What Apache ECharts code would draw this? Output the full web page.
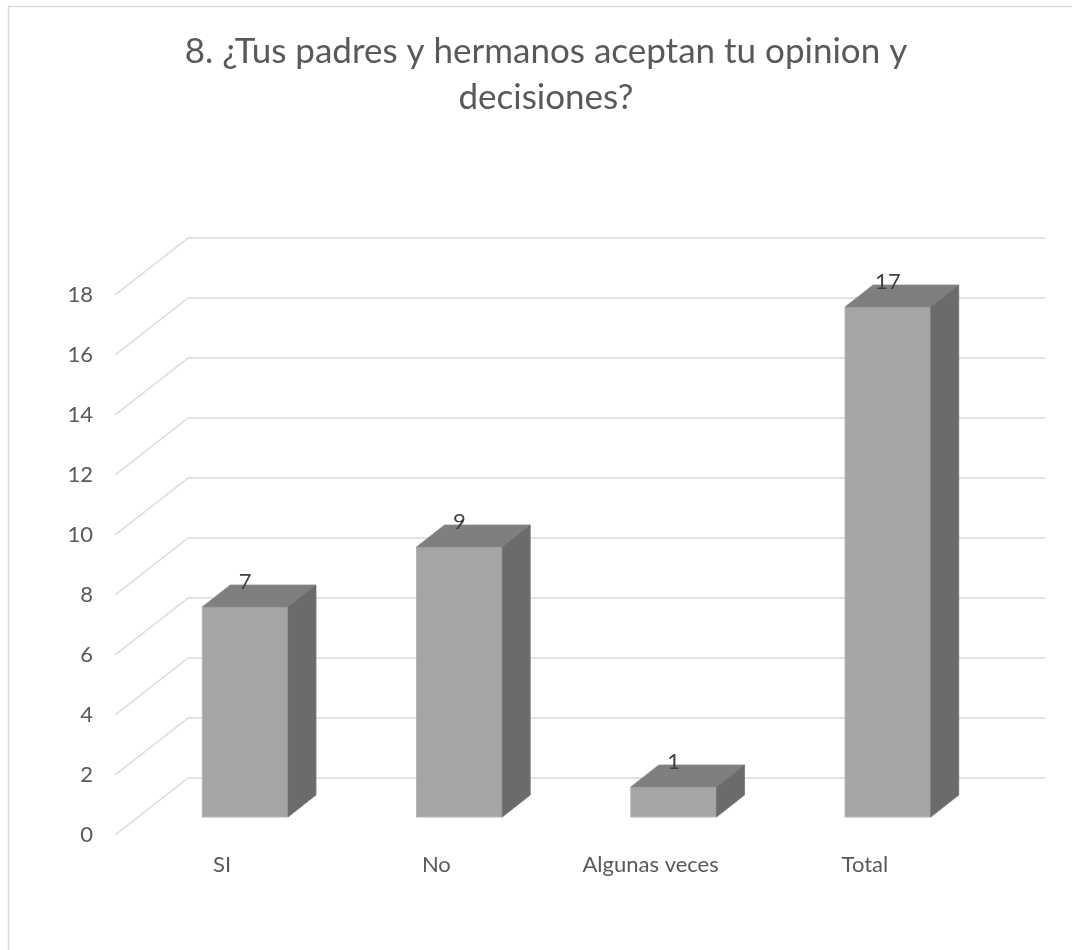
<!DOCTYPE html>
<html>
<head>
<meta charset="utf-8">
<script src="https://cdn.jsdelivr.net/npm/echarts@6/dist/echarts.min.js"></script>
<style>html,body{margin:0;padding:0;background:#fff}#c{width:1072px;height:950px}</style>
</head>
<body>
<div id="c"></div>
<script>
var titleLines = ['8. ¿Tus padres y hermanos aceptan tu opinion y', 'decisiones?'];
var categories = ['SI', 'No', 'Algunas veces', 'Total'];
var values = [7, 9, 1, 17];
var yTicks = [0, 2, 4, 6, 8, 10, 12, 14, 16, 18];

// depth geometry (pixels)
var WALL_DX = 73, WALL_DY = 57;      // floor depth
var BAR_OFF_X = 23, BAR_OFF_Y = 18;  // bar front position inside depth
var BAR_DX = 28, BAR_DY = 22;        // bar depth
var BAR_FRAC = 0.4;

var chart = echarts.init(document.getElementById('c'), null, {renderer: 'canvas'});
var FONT = 'Lato';

chart.setOption({
  animation: false,
  backgroundColor: '#ffffff',
  graphic: [{
    type: 'rect', silent: true, z: -10,
    shape: {x: 8.5, y: 6.5, width: 1200, height: 1200},
    style: {fill: 'none', stroke: '#d9d9d9', lineWidth: 1.5}
  }],
  title: {
    text: titleLines.join('\n'),
    left: 541, top: 24, textAlign: 'center',
    textStyle: {fontFamily: FONT, fontSize: 35, fontWeight: 'normal', color: '#595959', lineHeight: 46}
  },
  grid: {left: 115, right: 100, top: 295, bottom: 115},
  xAxis: {
    type: 'category', data: categories,
    axisLine: {show: false}, axisTick: {show: false}, splitLine: {show: false},
    axisLabel: {margin: 19, fontFamily: FONT, fontSize: 22, color: '#595959'}
  },
  yAxis: {
    type: 'value', min: 0, max: 18, interval: 2,
    axisLine: {show: false}, axisTick: {show: false}, splitLine: {show: false},
    axisLabel: {margin: 22, fontFamily: FONT, fontSize: 22, color: '#595959'}
  },
  series: [{
    type: 'custom', clip: false, silent: true, z: 1,
    data: yTicks.map(function (v) { return [0, v]; }),
    encode: {x: 0, y: 1},
    renderItem: function (params, api) {
      var cs = params.coordSys;
      var p = api.coord([0, api.value(1)]);
      var y = p[1];
      var st = {stroke: '#d9d9d9', lineWidth: 1.5};
      return {
        type: 'group',
        children: [
          {type: 'line', shape: {x1: cs.x, y1: y, x2: cs.x + WALL_DX, y2: y - WALL_DY}, style: st},
          {type: 'line', shape: {x1: cs.x + WALL_DX, y1: y - WALL_DY, x2: cs.x + cs.width + WALL_DX, y2: y - WALL_DY}, style: st}
        ]
      };
    }
  }, {
    type: 'custom', clip: false, silent: true, z: 2,
    data: values.map(function (v, i) { return [i, v]; }),
    encode: {x: 0, y: 1},
    renderItem: function (params, api) {
      var idx = api.value(0), val = api.value(1);
      var top = api.coord([idx, val]);
      var base = api.coord([idx, 0]);
      var band = api.size([1, 0])[0];
      var w = band * BAR_FRAC;
      var fx = top[0] - w / 2 + BAR_OFF_X;
      var ty = top[1] - BAR_OFF_Y;
      var by = base[1] - BAR_OFF_Y;
      return {
        type: 'group',
        children: [
          {type: 'rect', shape: {x: fx, y: ty, width: w, height: by - ty},
            style: {fill: '#a5a5a5', stroke: '#b4b4b4', lineWidth: 1}},
          {type: 'polygon', shape: {points: [[fx, ty], [fx + BAR_DX, ty - BAR_DY], [fx + w + BAR_DX, ty - BAR_DY], [fx + w, ty]]},
            style: {fill: '#7f7f7f', stroke: '#888888', lineWidth: 0.8}},
          {type: 'polygon', shape: {points: [[fx + w, ty], [fx + w + BAR_DX, ty - BAR_DY], [fx + w + BAR_DX, by - BAR_DY], [fx + w, by]]},
            style: {fill: '#6b6b6b', stroke: '#707070', lineWidth: 0.8}},
          {type: 'text', style: {text: String(val), x: fx + w / 2, y: ty - BAR_DY - 3,
            align: 'center', verticalAlign: 'middle', font: '22px ' + FONT, fill: '#404040'}}
        ]
      };
    }
  }]
});
</script>
</body>
</html>
